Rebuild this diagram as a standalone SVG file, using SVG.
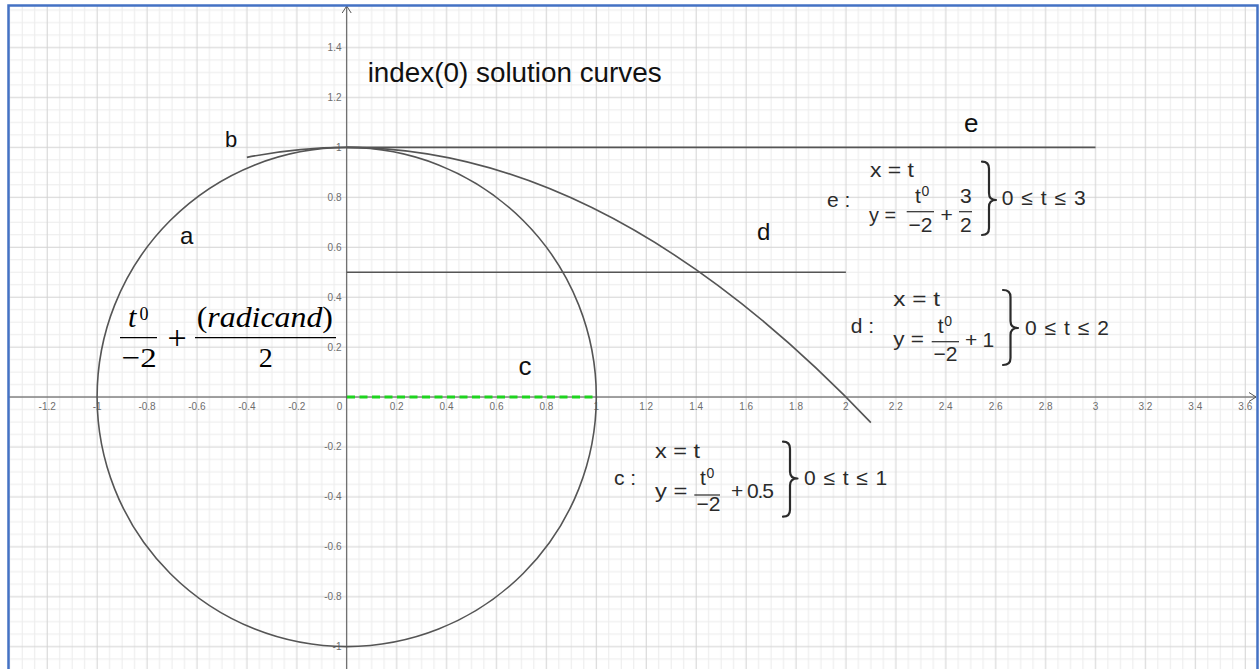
<svg xmlns="http://www.w3.org/2000/svg" width="1259" height="669" viewBox="0 0 1259 669">
<style>
.tick{font-family:"Liberation Sans",Arial,sans-serif;font-size:10px;fill:#6e6e6e}
.lbl{font-family:"Liberation Sans",Arial,sans-serif;fill:#111}
.m{font-family:"Liberation Sans",Arial,sans-serif;font-size:21px;fill:#2b2b2b}
.sup{font-family:"Liberation Sans",Arial,sans-serif;font-size:14px;fill:#2b2b2b}
.bar{stroke:#2b2b2b;stroke-width:1.2}
.brace{fill:none;stroke:#2b2b2b;stroke-width:2.2;stroke-linecap:round;stroke-linejoin:round}
.curve{fill:none;stroke:#555;stroke-width:1.6}
.tex{font-family:"Liberation Serif","Times New Roman",serif;fill:#000}
.axis{stroke:#555;stroke-width:1;fill:none}
</style>
<defs>
<pattern id="grid" patternUnits="userSpaceOnUse" x="340.46" y="390.76" width="49.92" height="49.92">
<path d="M18.72 0V49.92M31.2 0V49.92M43.68 0V49.92M0 18.72H49.92M0 31.2H49.92M0 43.68H49.92" stroke="#ececec" stroke-width="1"/>
<path d="M6.24 0V49.92M0 6.24H49.92" stroke="#d2d2d2" stroke-width="1"/>
</pattern>
</defs>
<rect x="0" y="0" width="1259" height="669" fill="#fff"/>
<rect x="8" y="5" width="1250" height="664" fill="url(#grid)"/>

<g id="axes">
<path class="axis" d="M8 397H1256M346.7 669V6"/>
<path class="axis" d="M1249 392.5L1256 397L1249 401.5M342.2 13L346.7 6L351.2 13"/>
</g>

<g id="x-ticks" class="tick" text-anchor="middle">
<text x="47.2" y="410">-1.2</text>
<text x="97.1" y="410">-1</text>
<text x="147" y="410">-0.8</text>
<text x="196.9" y="410">-0.6</text>
<text x="246.9" y="410">-0.4</text>
<text x="296.8" y="410">-0.2</text>
<text x="339.5" y="410">0</text>
<text x="396.6" y="410">0.2</text>
<text x="446.5" y="410">0.4</text>
<text x="496.5" y="410">0.6</text>
<text x="546.4" y="410">0.8</text>
<text x="596.3" y="410">1</text>
<text x="646.2" y="410">1.2</text>
<text x="696.1" y="410">1.4</text>
<text x="746.1" y="410">1.6</text>
<text x="796" y="410">1.8</text>
<text x="845.9" y="410">2</text>
<text x="895.8" y="410">2.2</text>
<text x="945.7" y="410">2.4</text>
<text x="995.7" y="410">2.6</text>
<text x="1045.6" y="410">2.8</text>
<text x="1095.5" y="410">3</text>
<text x="1145.4" y="410">3.2</text>
<text x="1195.3" y="410">3.4</text>
<text x="1245.3" y="410">3.6</text>
</g>
<g id="y-ticks" class="tick" text-anchor="end">
<text x="341.5" y="51">1.4</text>
<text x="341.5" y="101">1.2</text>
<text x="341.5" y="151">1</text>
<text x="341.5" y="201">0.8</text>
<text x="341.5" y="250.7">0.6</text>
<text x="341.5" y="300.7">0.4</text>
<text x="341.5" y="350.6">0.2</text>
<text x="341.5" y="450.4">-0.2</text>
<text x="341.5" y="500.3">-0.4</text>
<text x="341.5" y="550.3">-0.6</text>
<text x="341.5" y="600.2">-0.8</text>
<text x="341.5" y="650.1">-1</text>
</g>

<g id="curve-a">
<circle class="curve" cx="346.7" cy="397" r="249.6"/>
</g>
<g id="curve-b">
<path class="curve" d="M246.86 157.38Q558.86 94.98 870.86 422.58"/>
</g>
<g id="curve-e">
<path class="curve" d="M346.7 147.4H1095.5"/>
</g>
<g id="curve-d">
<path class="curve" d="M346.7 272.2H845.9"/>
</g>
<g id="curve-c">
<path d="M347 397H596.3" fill="none" stroke="#1ed41e" stroke-width="3" stroke-dasharray="8 4.5"/>
</g>

<g id="title">
<text class="lbl" x="367.7" y="81.5" font-size="27" textLength="294" lengthAdjust="spacingAndGlyphs">index(0) solution curves</text>
</g>

<g id="labels" class="lbl">
<text x="180" y="244" font-size="24">a</text>
<text x="225" y="146.7" font-size="22">b</text>
<text x="518.5" y="375" font-size="26">c</text>
<text x="757" y="240" font-size="24">d</text>
<text x="964" y="131.7" font-size="26">e</text>
</g>

<g id="formula" class="tex">
<text x="128" y="327" font-size="30" font-style="italic">t</text>
<text x="139.5" y="320" font-size="18">0</text>
<line x1="120" y1="337.7" x2="157" y2="337.7" stroke="#000" stroke-width="1.3"/>
<text x="121.7" y="366.7" font-size="28" textLength="35" lengthAdjust="spacingAndGlyphs">−2</text>
<text x="177" y="348.6" font-size="34" text-anchor="middle">+</text>
<text x="196.7" y="326.7" font-size="29" textLength="136.3" lengthAdjust="spacingAndGlyphs">(<tspan font-style="italic">radicand</tspan>)</text>
<line x1="195" y1="337.7" x2="336" y2="337.7" stroke="#000" stroke-width="1.3"/>
<text x="265.7" y="366.7" font-size="28" text-anchor="middle">2</text>
</g>

<g id="param-e">
<text class="m" x="827" y="206.5">e :</text>
<text class="m" x="870" y="176.5" textLength="44" lengthAdjust="spacingAndGlyphs">x = t</text>
<text class="m" x="869" y="221.5" textLength="27" lengthAdjust="spacingAndGlyphs">y =</text>
<text class="m" x="915" y="203">t</text>
<text class="sup" x="921.5" y="196">0</text>
<line class="bar" x1="906.7" y1="211.7" x2="934" y2="211.7"/>
<text class="m" x="908.5" y="231.7">−2</text>
<text class="m" x="940.5" y="221.5">+</text>
<text class="m" x="960" y="203">3</text>
<line class="bar" x1="959" y1="211.7" x2="972" y2="211.7"/>
<text class="m" x="960" y="231.7">2</text>
<path class="brace" d="M982 161.7Q989 161.7 989 168.7L989 193Q989 200 996 200Q989 200 989 207L989 228Q989 235 982 235"/>
<text class="m" x="1001.7" y="205" textLength="84" lengthAdjust="spacing">0 ≤ t ≤ 3</text>
</g>

<g id="param-d">
<text class="m" x="850.7" y="333.3">d :</text>
<text class="m" x="893.3" y="306" textLength="46.7" lengthAdjust="spacingAndGlyphs">x = t</text>
<text class="m" x="893.3" y="346" textLength="30.7" lengthAdjust="spacingAndGlyphs">y =</text>
<text class="m" x="937.7" y="332.7">t</text>
<text class="sup" x="944.2" y="325.7">0</text>
<line class="bar" x1="931.7" y1="341.7" x2="959" y2="341.7"/>
<text class="m" x="933.5" y="361">−2</text>
<text class="m" x="965" y="346.5" textLength="29.3" lengthAdjust="spacing">+ 1</text>
<path class="brace" d="M1003 290Q1010.5 290 1010.5 297L1010.5 321Q1010.5 328 1018 328Q1010.5 328 1010.5 335L1010.5 358Q1010.5 365 1003 365"/>
<text class="m" x="1025" y="335" textLength="84" lengthAdjust="spacing">0 ≤ t ≤ 2</text>
</g>

<g id="param-c">
<text class="m" x="614" y="485">c :</text>
<text class="m" x="655" y="457.7" textLength="45" lengthAdjust="spacingAndGlyphs">x = t</text>
<text class="m" x="655" y="498.3" textLength="32.3" lengthAdjust="spacingAndGlyphs">y =</text>
<text class="m" x="700" y="485">t</text>
<text class="sup" x="706.5" y="478">0</text>
<line class="bar" x1="694.3" y1="495" x2="720" y2="495"/>
<text class="m" x="696.5" y="511">−2</text>
<text class="m" x="731" y="498.3" textLength="43" lengthAdjust="spacing">+ 0.5</text>
<path class="brace" d="M783 441.7Q790 441.7 790 448.7L790 471.5Q790 478.5 797.5 478.5Q790 478.5 790 485.5L790 509.7Q790 516.7 783 516.7"/>
<text class="m" x="804" y="485" textLength="83.3" lengthAdjust="spacing">0 ≤ t ≤ 1</text>
</g>

<g id="frame">
<rect x="8.5" y="5.5" width="1249" height="700" fill="none" stroke="#4472c4" stroke-width="2.5"/>
</g>
</svg>
